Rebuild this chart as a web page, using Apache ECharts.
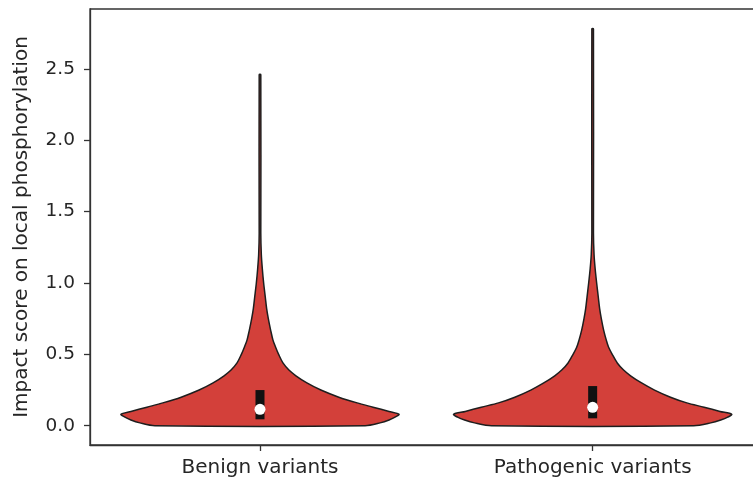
<!DOCTYPE html>
<html>
<head>
<meta charset="utf-8">
<title>Violin plot</title>
<script src="https://cdn.jsdelivr.net/npm/echarts@6/dist/echarts.min.js"></script>
<style>
    html, body { margin: 0; padding: 0; background: #fff; }
    #chart { width: 753px; height: 485px; }
</style>
</head>
<body>
<div id="chart"></div>
<script>
// 分类
const categories = ['Benign variants', 'Pathogenic variants'];

// 小提琴轮廓：高度（分值）与半宽（分类轴单位）
const levels = [0, 0.02, 0.04, 0.06, 0.08, 0.1, 0.13, 0.16, 0.2, 0.25, 0.3, 0.35, 0.39, 0.44, 0.5, 0.55, 0.6, 0.67, 0.75, 0.82, 0.9, 1.0, 1.1, 1.2, 1.35];
const benignWidths = [0.316, 0.361, 0.388, 0.406, 0.418, 0.388, 0.340, 0.292, 0.237, 0.183, 0.141, 0.108, 0.087, 0.069, 0.056, 0.047, 0.039, 0.032, 0.025, 0.020, 0.016, 0.011, 0.007, 0.004, 0.0024];
const pathogenicWidths = [0.304, 0.355, 0.385, 0.406, 0.418, 0.383, 0.335, 0.283, 0.234, 0.186, 0.147, 0.114, 0.093, 0.074, 0.059, 0.048, 0.041, 0.033, 0.026, 0.021, 0.017, 0.012, 0.0075, 0.0042, 0.0024];

// 最大值、四分位数、中位数
const maxima = [2.46, 2.78];
const q1 = [0.045, 0.052];
const q3 = [0.25, 0.278];
const medians = [0.115, 0.129];

// 刻度
const yTicks = [0, 0.5, 1.0, 1.5, 2.0, 2.5];
const xTicks = [0, 1];

document.addEventListener('DOMContentLoaded', function() {
    initViolinChart();
});

function initViolinChart() {
    const chart = echarts.init(document.getElementById('chart'));
    const widths = [benignWidths, pathogenicWidths];

    // 绘制小提琴轮廓
    function renderViolin(params, api) {
        const i = api.value(0);
        const w = widths[i];
        const ys = levels.concat([maxima[i]]);
        const ws = w.concat([w[w.length - 1]]);
        const right = [];
        const left = [];
        for (let k = 0; k < ys.length; k++) {
            right.push(api.coord([i + ws[k], ys[k]]));
            left.unshift(api.coord([i - ws[k], ys[k]]));
        }
        return {
            type: 'polygon',
            shape: { points: right.concat(left), smooth: 0.3 },
            style: {
                fill: '#d3403a',
                stroke: '#1e1e1e',
                lineWidth: 1.5,
                lineJoin: 'round'
            }
        };
    }

    // 绘制四分位箱
    function renderBox(params, api) {
        const i = api.value(0);
        const top = api.coord([i, q3[i]]);
        const bottom = api.coord([i, q1[i]]);
        return {
            type: 'rect',
            shape: { x: top[0] - 4.5, y: top[1], width: 9, height: bottom[1] - top[1] },
            style: { fill: '#111' }
        };
    }

    const textColor = '#262626';
    const lineColor = '#333';

    const option = {
        animation: false,
        grid: {
            left: 90,
            top: 9,
            right: -1,
            bottom: 40,
            outerBoundsMode: 'none',
            show: true,
            borderColor: lineColor,
            borderWidth: 1.3
        },
        xAxis: {
            type: 'value',
            min: -0.511,
            max: 1.485,
            splitLine: { show: false },
            axisLine: { show: true, onZero: false, lineStyle: { color: lineColor, width: 1.3 } },
            axisTick: { show: true, length: 6, customValues: xTicks, lineStyle: { color: lineColor, width: 1.3 } },
            axisLabel: {
                customValues: xTicks,
                margin: 13,
                fontFamily: 'DejaVu Sans',
                fontSize: 20,
                color: textColor,
                formatter: function(v) { return categories[Math.round(v)]; }
            }
        },
        yAxis: {
            type: 'value',
            min: -0.135,
            max: 2.92,
            name: 'Impact score on local phosphorylation',
            nameLocation: 'middle',
            nameGap: 58,
            nameTextStyle: { fontFamily: 'DejaVu Sans', fontSize: 20, color: textColor },
            splitLine: { show: false },
            axisLine: { show: true, onZero: false, lineStyle: { color: lineColor, width: 1.3 } },
            axisTick: { show: true, length: 6, customValues: yTicks, lineStyle: { color: lineColor, width: 1.3 } },
            axisLabel: {
                customValues: yTicks,
                margin: 15,
                fontFamily: 'DejaVu Sans',
                fontSize: 18.5,
                color: textColor,
                formatter: function(v) { return v.toFixed(1); }
            }
        },
        series: [
            {
                type: 'custom',
                renderItem: renderViolin,
                data: categories.map(function(c, i) { return [i]; }),
                z: 2
            },
            {
                type: 'custom',
                renderItem: renderBox,
                data: categories.map(function(c, i) { return [i]; }),
                z: 3
            },
            {
                type: 'scatter',
                data: medians.map(function(m, i) { return [i, m]; }),
                symbolSize: 11,
                itemStyle: { color: '#fff', opacity: 1 },
                z: 4
            }
        ]
    };

    chart.setOption(option);

    window.addEventListener('resize', function() {
        chart.resize();
    });
}
</script>
</body>
</html>
